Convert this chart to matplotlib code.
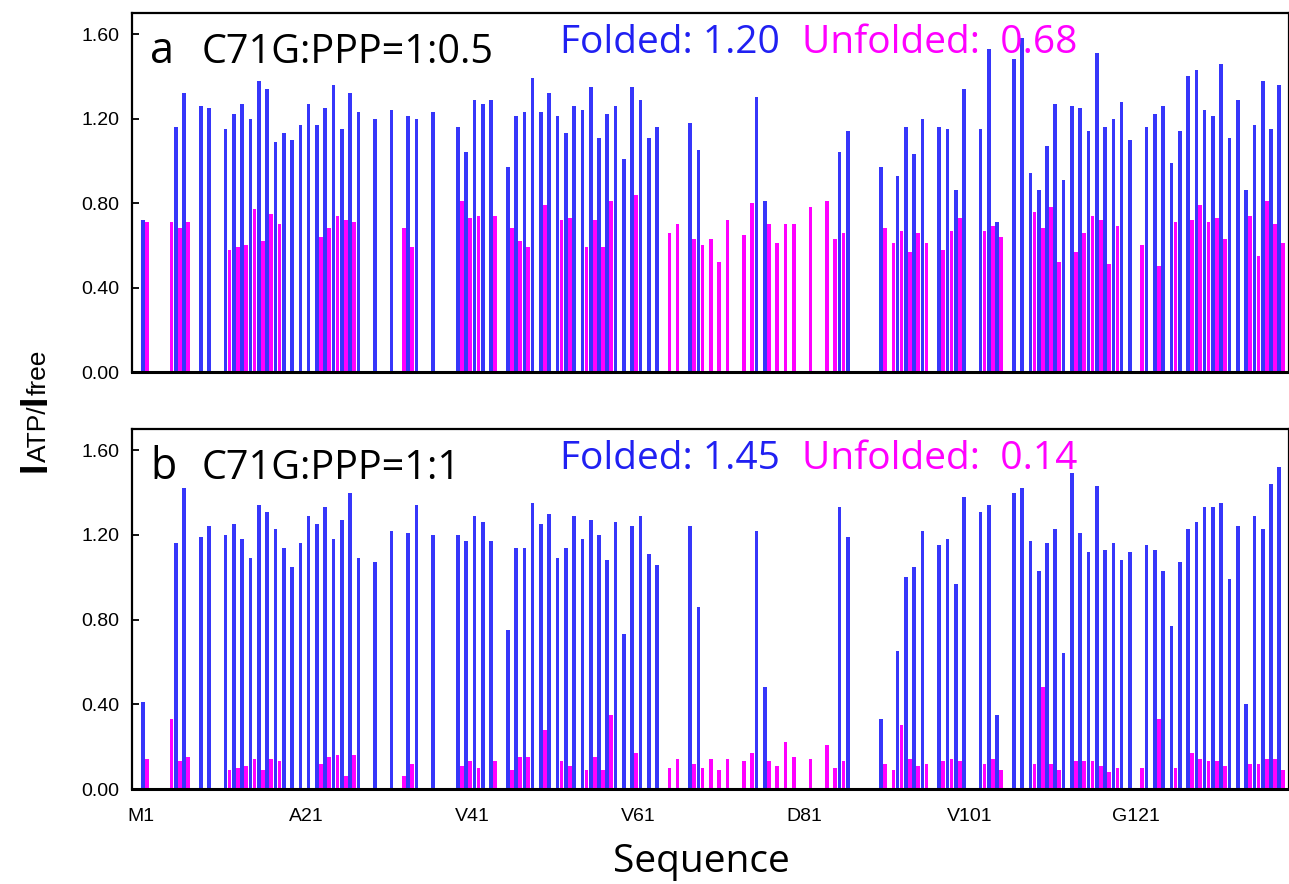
import numpy as np
import matplotlib.pyplot as plt

# I(ATP)/I(free) per residue, residues 1..138 (None = no data)
residues = np.arange(1, 139)

folded_a = [
    0.72, None, None, None, 1.16, 1.32, None, 1.26, 1.25, None,
    1.15, 1.22, 1.27, 1.20, 1.38, 1.34, 1.09, 1.13, 1.10, 1.17,
    1.27, 1.17, 1.25, 1.36, 1.15, 1.32, 1.23, None, 1.20, None,
    1.24, None, 1.21, 1.20, None, 1.23, None, None, 1.16, 1.04,
    1.29, 1.27, 1.29, None, 0.97, 1.21, 1.23, 1.39, 1.23, 1.32,
    1.21, 1.13, 1.26, 1.24, 1.35, 1.11, 1.22, 1.26, 1.01, 1.35,
    1.29, 1.11, 1.16, None, None, None, 1.18, 1.05, None, None,
    None, None, None, None, 1.30, 0.81, None, None, None, None,
    None, None, None, None, 1.04, 1.14, None, None, None, 0.97,
    None, 0.93, 1.16, 1.03, 1.20, None, 1.16, 1.15, 0.86, 1.34,
    None, 1.15, 1.53, 0.71, None, 1.48, 1.58, 0.94, 0.86, 1.07,
    1.27, 0.91, 1.26, 1.25, 1.14, 1.51, 1.16, 1.20, 1.28, 1.10,
    None, 1.16, 1.22, 1.26, 0.99, 1.14, 1.40, 1.43, 1.24, 1.21,
    1.46, 1.11, 1.29, 0.86, 1.17, 1.38, 1.15, 1.36,
]

unfolded_a = [
    0.71, None, None, 0.71, 0.68, 0.71, None, None, None, None,
    0.58, 0.59, 0.60, 0.77, 0.62, 0.75, 0.70, None, None, None,
    None, 0.64, 0.68, 0.74, 0.72, 0.71, None, None, None, None,
    None, 0.68, 0.59, None, None, None, None, None, 0.81, 0.73,
    0.74, None, 0.74, None, 0.68, 0.62, 0.59, None, 0.79, None,
    0.72, 0.73, None, 0.59, 0.72, 0.59, 0.81, None, None, 0.84,
    None, None, None, 0.66, 0.70, None, 0.63, 0.60, 0.63, 0.52,
    0.72, None, 0.65, 0.80, None, 0.70, 0.61, 0.70, 0.70, None,
    0.78, None, 0.81, 0.63, 0.66, None, None, None, None, 0.68,
    0.61, 0.67, 0.57, 0.66, 0.61, None, 0.58, 0.67, 0.73, None,
    None, 0.67, 0.69, 0.64, None, None, None, 0.76, 0.68, 0.78,
    0.52, None, 0.57, 0.66, 0.74, 0.72, 0.51, 0.69, None, None,
    0.60, None, 0.50, None, 0.71, None, 0.72, 0.79, 0.71, 0.73,
    0.63, None, None, 0.74, 0.55, 0.81, 0.70, 0.61,
]

folded_b = [
    0.41, None, None, None, 1.16, 1.42, None, 1.19, 1.24, None,
    1.20, 1.25, 1.18, 1.09, 1.34, 1.31, 1.23, 1.14, 1.05, 1.16,
    1.29, 1.25, 1.33, 1.18, 1.27, 1.40, 1.09, None, 1.07, None,
    1.22, None, 1.21, 1.34, None, 1.20, None, None, 1.20, 1.17,
    1.29, 1.26, 1.17, None, 0.75, 1.14, 1.14, 1.35, 1.25, 1.30,
    1.09, 1.14, 1.29, 1.18, 1.27, 1.20, 1.08, 1.26, 0.73, 1.24,
    1.29, 1.11, 1.06, None, None, None, 1.24, 0.86, None, None,
    None, None, None, None, 1.22, 0.48, None, None, None, None,
    None, None, None, None, 1.33, 1.19, None, None, None, 0.33,
    None, 0.65, 1.00, 1.05, 1.22, None, 1.15, 1.18, 0.97, 1.38,
    None, 1.31, 1.34, 0.35, None, 1.40, 1.42, 1.17, 1.03, 1.16,
    1.23, 0.64, 1.49, 1.21, 1.12, 1.43, 1.13, 1.16, 1.08, 1.12,
    None, 1.15, 1.13, 1.03, 0.77, 1.07, 1.23, 1.26, 1.33, 1.33,
    1.35, 0.99, 1.24, 0.40, 1.29, 1.23, 1.44, 1.52,
]

unfolded_b = [
    0.14, None, None, 0.33, 0.13, 0.15, None, None, None, None,
    0.09, 0.10, 0.11, 0.14, 0.09, 0.14, 0.13, None, None, None,
    None, 0.12, 0.15, 0.16, 0.06, 0.16, None, None, None, None,
    None, 0.06, 0.12, None, None, None, None, None, 0.11, 0.13,
    0.10, None, 0.13, None, 0.09, 0.15, 0.15, None, 0.28, None,
    0.13, 0.11, None, 0.09, 0.15, 0.09, 0.35, None, None, 0.17,
    None, None, None, 0.10, 0.14, None, 0.12, 0.10, 0.14, 0.09,
    0.14, None, 0.13, 0.17, None, 0.13, 0.11, 0.22, 0.15, None,
    0.14, None, 0.21, 0.10, 0.13, None, None, None, None, 0.12,
    0.09, 0.30, 0.14, 0.11, 0.12, None, 0.13, 0.14, 0.13, None,
    None, 0.12, 0.14, 0.09, None, None, None, 0.12, 0.48, 0.12,
    0.09, None, 0.13, 0.13, 0.13, 0.11, 0.08, 0.10, None, None,
    0.10, None, 0.33, None, 0.10, None, 0.17, 0.14, 0.13, 0.13,
    0.11, None, None, 0.12, 0.12, 0.14, 0.14, 0.09,
]

tick_residues = [1, 21, 41, 61, 81, 101, 121]
tick_names = ['M1', 'A21', 'V41', 'V61', 'D81', 'V101', 'G121']

panels = [
    ('a', 'C71G:PPP=1:0.5', 'Folded: 1.20', 'Unfolded:  0.68', folded_a, unfolded_a),
    ('b', 'C71G:PPP=1:1', 'Folded: 1.45', 'Unfolded:  0.14', folded_b, unfolded_b),
]

BLUE = '#3636fa'
MAGENTA = '#ff00ff'
TXT = 'Open Sans'
NUM = 'Liberation Sans'

W, H = 1289, 884
fig = plt.figure(figsize=(W / 100, H / 100), dpi=100)

# axes boxes in pixels: (top, bottom)
boxes = [(13, 372), (429, 789)]
left_px, right_px = 132, 1289


def draw_series(ax, vals, offset, color):
    v = np.array([np.nan if x is None else x for x in vals], dtype=float)
    ok = ~np.isnan(v)
    ax.bar(residues[ok] + offset, v[ok], width=0.44, color=color, linewidth=0)


for i, (tag, ratio, ftxt, utxt, fv, uv) in enumerate(panels):
    top, bot = boxes[i]
    ax = fig.add_axes([left_px / W, 1 - bot / H, (right_px - left_px) / W, (bot - top) / H])

    draw_series(ax, fv, -0.24, BLUE)
    draw_series(ax, uv, 0.24, MAGENTA)

    ax.set_xlim(-0.53, 138.93)
    ax.set_ylim(0, 1.70)
    ax.set_yticks([0, 0.4, 0.8, 1.2, 1.6])
    ax.set_yticklabels(['0.00', '0.40', '0.80', '1.20', '1.60'], fontsize=14, family=NUM)
    ax.tick_params(axis='y', direction='in', length=5, width=1.3, pad=9)

    ax.set_xticks(np.array(tick_residues) - 0.5)
    if i == 1:
        ax.set_xticklabels(tick_names, fontsize=14, family=NUM)
    else:
        ax.set_xticklabels([])
    ax.tick_params(axis='x', length=0, pad=14)

    for s in ax.spines.values():
        s.set_linewidth(1.6)
    ax.spines['bottom'].set_linewidth(2.2)

    ax.text(0.0156, 0.862, tag, transform=ax.transAxes, fontsize=31, family=TXT)
    ax.text(0.0602, 0.862, ratio, transform=ax.transAxes, fontsize=28.5, family=TXT)
    ax.text(0.370, 0.889, ftxt, transform=ax.transAxes, fontsize=28, family=TXT, color='#2020f2')
    ax.text(0.579, 0.889, utxt, transform=ax.transAxes, fontsize=28, family=TXT, color=MAGENTA)

fig.text(701 / W, 1 - 872 / H, 'Sequence', ha='center', va='baseline', fontsize=28, family=TXT)

# y label: big bold I's with plain ATP/ and free, stacked bottom-to-top
fig.canvas.draw()
rend = fig.canvas.get_renderer()
x_in, y_in = 46 / 100, (H - 472) / 100
for s, size, weight in [('I', 27, 'bold'), ('ATP/', 19, 'normal'), ('I', 27, 'bold'), ('free', 19, 'normal')]:
    t = fig.text(x_in, y_in, s, rotation=90, rotation_mode='anchor', ha='left', va='baseline',
                 fontsize=size, fontweight=weight, family=NUM, transform=fig.dpi_scale_trans)
    bb = t.get_window_extent(rend)
    y_in += bb.height / fig.dpi

fig.savefig('out.png', dpi=100)
